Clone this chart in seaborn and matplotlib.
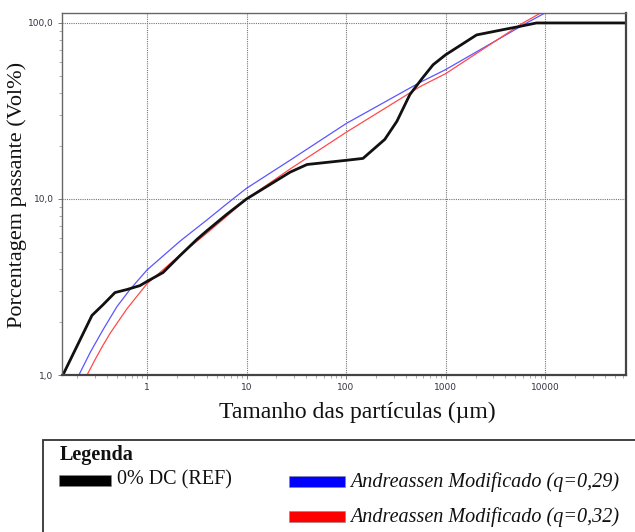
import numpy as np
import pandas as pd
import matplotlib
matplotlib.use("Agg")
import matplotlib.pyplot as plt
import seaborn as sns
from matplotlib.patches import Rectangle
from matplotlib.ticker import FixedLocator, FixedFormatter, LogLocator, NullFormatter

# ---- data ----
ref_x = [0.143, 0.28, 0.36, 0.477, 0.63, 0.85, 1.0, 1.45, 2.14, 3.18, 4.0, 6.36, 10, 27.4, 40.6,
         102, 148, 245, 324, 438, 580, 750, 1000, 2050, 4130, 5230, 8200, 65000]
ref_y = [1.0, 2.18, 2.5, 2.94, 3.06, 3.22, 3.4, 3.82, 4.76, 5.9, 6.6, 8.2, 10, 14.2, 15.7,
         16.6, 17.0, 21.8, 27.6, 39.2, 48.3, 57.9, 65.9, 85.5, 92.5, 94.9, 100, 100]

q29_x = [0.207, 0.27, 0.36, 0.5, 0.675, 1.0, 2.14, 4.0, 6.36, 10, 27.4, 100, 555, 1000, 6530, 10000]
q29_y = [1.0, 1.35, 1.8, 2.45, 3.06, 3.95, 5.75, 7.6, 9.4, 11.5, 16.6, 26.8, 46.0, 54.3, 100, 114]

q32_x = [0.25, 0.3, 0.36, 0.425, 0.5, 0.63, 1.0, 2.14, 4.0, 6.36, 10, 27.4, 100, 555, 1000, 6000, 9560]
q32_y = [1.0, 1.22, 1.47, 1.72, 1.97, 2.38, 3.3, 4.8, 6.4, 8.0, 10.0, 14.8, 23.9, 43.5, 51.5, 100, 116]

series_names = ["0% DC (REF)", "Andreassen Modificado (q=0,29)", "Andreassen Modificado (q=0,32)"]
x_ticks = [1, 10, 100, 1000, 10000]
x_ticklabels = ["1", "10", "100", "1000", "10000"]
y_ticks = [1, 10, 100]
y_ticklabels = ["1,0", "10,0", "100,0"]

df = pd.concat([
    pd.DataFrame({"x": q29_x, "y": q29_y, "serie": series_names[1]}),
    pd.DataFrame({"x": q32_x, "y": q32_y, "serie": series_names[2]}),
    pd.DataFrame({"x": ref_x, "y": ref_y, "serie": series_names[0]}),
], ignore_index=True)

sns.set_theme(style="white")
plt.rcParams["font.family"] = ["DejaVu Sans"]

W, H = 635, 532
fig = plt.figure(figsize=(W / 100, H / 100), dpi=100)
ax = fig.add_axes([62 / W, 1 - 375 / H, (626 - 62) / W, (375 - 13) / H])

line_colors = {series_names[0]: "#111111", series_names[1]: "#5a55ff", series_names[2]: "#ff4a4a"}
line_widths = {series_names[0]: 2.0, series_names[1]: 0.9, series_names[2]: 0.9}
for name in [series_names[1], series_names[2], series_names[0]]:
    sub = df[df["serie"] == name]
    sns.lineplot(data=sub, x="x", y="y", ax=ax, color=line_colors[name],
                 lw=line_widths[name], estimator=None, sort=False, legend=False)

ax.set_xscale("log")
ax.set_yscale("log")
ax.set_xlim(0.14, 65000)
ax.set_ylim(1.0, 113.9)

ax.xaxis.set_major_locator(FixedLocator(x_ticks))
ax.xaxis.set_major_formatter(FixedFormatter(x_ticklabels))
ax.xaxis.set_minor_locator(LogLocator(base=10, subs=np.arange(2, 10)))
ax.xaxis.set_minor_formatter(NullFormatter())
ax.yaxis.set_major_locator(FixedLocator(y_ticks))
ax.yaxis.set_major_formatter(FixedFormatter(y_ticklabels))
ax.yaxis.set_minor_locator(LogLocator(base=10, subs=np.arange(2, 10)))
ax.yaxis.set_minor_formatter(NullFormatter())

ax.tick_params(axis="both", which="major", direction="out", length=3, width=0.6,
               color="#666666", labelsize=6.5, labelcolor="#333344", pad=3)
ax.tick_params(axis="both", which="minor", direction="out", length=2, width=0.5, color="#888888")
ax.tick_params(axis="x", which="both", bottom=True)
ax.tick_params(axis="y", which="both", left=True)

ax.grid(True, which="major", linestyle=(0, (1, 1)), color="#777777", lw=0.8)
ax.set_xlabel("")
ax.set_ylabel("")

for s in ["top", "left"]:
    ax.spines[s].set_color("#666666")
    ax.spines[s].set_linewidth(1.0)
for s in ["bottom", "right"]:
    ax.spines[s].set_color("#444444")
    ax.spines[s].set_linewidth(1.6)

serif = ["Liberation Serif", "DejaVu Serif"]
fig.text(357 / W, 1 - 418 / H, "Tamanho das partículas (µm)",
         family=serif, fontsize=17, ha="center", va="baseline", color="#111111")
fig.text(17 / W, 1 - 195 / H, "Porcentagem passante (Vol%)", family=serif, fontsize=16,
         rotation=90, ha="center", va="center", color="#111111")

# legend box (custom, as in the reference)
fig.patches.append(Rectangle((43 / W, -0.05), 1.0, (1 - 440 / H) + 0.05,
                             transform=fig.transFigure, fill=False, ec="#333333", lw=1.3))
fig.text(60 / W, 1 - 455 / H, "Legenda", family=serif, fontsize=14.5, weight="bold",
         ha="left", va="center", color="#111111")
patch_cols = ["#000000", "#0000ff", "#ff0000"]
patch_pos = [(59, 475, 52), (289, 476, 56), (289, 511, 56)]
text_pos = [(117, 480), (350, 482), (350, 517)]
for name, col, (px, py, pw), (tx, ty) in zip(series_names, patch_cols, patch_pos, text_pos):
    fig.patches.append(Rectangle((px / W, 1 - (py + 11) / H), pw / W, 11 / H,
                                 transform=fig.transFigure, fc=col, ec="#888888", lw=0.4))
    style = "normal" if name == series_names[0] else "italic"
    fig.text(tx / W, 1 - ty / H, name, family=serif, fontsize=14.5, style=style,
             ha="left", va="center", color="#111111")

fig.savefig("out.png", dpi=100)
